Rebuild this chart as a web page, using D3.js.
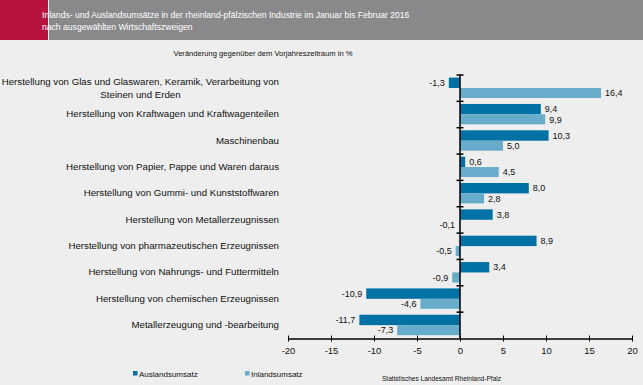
<!DOCTYPE html>
<html>
<head>
<meta charset="utf-8">
<script src="https://cdn.jsdelivr.net/npm/d3@7"></script>
<style>
  body { margin: 0; background: #eeeeee; }
  svg { display: block; font-family: "Liberation Sans", Arial, sans-serif; }
</style>
</head>
<body>
<script>
const categories = [
  ["Herstellung von Glas und Glaswaren, Keramik, Verarbeitung von", "Steinen und Erden"],
  ["Herstellung von Kraftwagen und Kraftwagenteilen"],
  ["Maschinenbau"],
  ["Herstellung von Papier, Pappe und Waren daraus"],
  ["Herstellung von Gummi- und Kunststoffwaren"],
  ["Herstellung von Metallerzeugnissen"],
  ["Herstellung von pharmazeutischen Erzeugnissen"],
  ["Herstellung von Nahrungs- und Futtermitteln"],
  ["Herstellung von chemischen Erzeugnissen"],
  ["Metallerzeugung und -bearbeitung"]
];
const auslandsumsatz = [-1.3, 9.4, 10.3, 0.6, 8.0, 3.8, 8.9, 3.4, -10.9, -11.7];
const inlandsumsatz = [16.4, 9.9, 5.0, 4.5, 2.8, -0.1, -0.5, -0.9, -4.6, -7.3];
const xTicks = [-20, -15, -10, -5, 0, 5, 10, 15, 20];
const seriesNames = ["Auslandsumsatz", "Inlandsumsatz"];
const colors = ["#0071a4", "#67acca"];

const width = 643, height = 385;
const svg = d3.select("body").append("svg")
  .attr("width", width).attr("height", height);

svg.append("rect").attr("width", width).attr("height", height).attr("fill", "#eeeeee");

// header
svg.append("rect").attr("x", 0).attr("y", 0).attr("width", 48).attr("height", 40).attr("fill", "#b8133f");
svg.append("rect").attr("x", 49).attr("y", 0).attr("width", width - 49).attr("height", 40).attr("fill", "#89898b");
svg.append("text").attr("x", 42).attr("y", 18).attr("fill", "#fff").attr("font-size", 8.6)
  .text("Inlands- und Auslandsumsätze in der rheinland-pfälzischen Industrie im Januar bis Februar 2016");
svg.append("text").attr("x", 42).attr("y", 29.5).attr("fill", "#fff").attr("font-size", 8.6)
  .text("nach ausgewählten Wirtschaftszweigen");

svg.append("text").attr("x", 263).attr("y", 56).attr("text-anchor", "middle")
  .attr("font-size", 7.6).attr("fill", "#111")
  .text("Veränderung gegenüber dem Vorjahreszeitraum  in %");

const x = d3.scaleLinear().domain([-20, 20]).range([288, 632]);
const y = d3.scaleBand().domain(d3.range(categories.length)).range([75, 338.5]);

const data = categories.map((c, i) => ({ i, a: auslandsumsatz[i], b: inlandsumsatz[i] }));
const fmt = v => d3.format(".1f")(v).replace(".", ",").replace("−", "-");

const groups = svg.append("g").selectAll("g").data(data).enter().append("g");

[["a", 2.6, 10.4], ["b", 13, 10]].forEach(([k, off, h], si) => {
  groups.append("rect")
    .attr("x", d => x(Math.min(0, d[k])))
    .attr("y", d => y(d.i) + off)
    .attr("width", d => Math.abs(x(d[k]) - x(0)))
    .attr("height", h)
    .attr("fill", colors[si]);
  groups.append("text")
    .attr("x", d => d[k] >= 0 ? x(d[k]) + 4 : x(d[k]) - 4)
    .attr("y", d => y(d.i) + off + h / 2 + 3.2)
    .attr("text-anchor", d => d[k] >= 0 ? "start" : "end")
    .attr("font-size", 9).attr("fill", "#111")
    .text(d => fmt(d[k]));
});

// category labels
svg.append("g").selectAll("text").data(categories).enter().append("text")
  .attr("font-size", 9.7).attr("fill", "#111")
  .each(function(c, i) {
    const t = d3.select(this);
    const cy = y(i) + y.bandwidth() / 2 + 2.8;
    c.forEach((line, j) => {
      t.append("tspan")
        .attr("x", j === 0 ? 279 : 140.5)
        .attr("text-anchor", j === 0 ? "end" : "middle")
        .attr("y", c.length === 1 ? cy : (j === 0 ? cy - 5.5 : cy + 7))
        .text(line);
    });
  });

// x axis
const xAxis = svg.append("g").attr("transform", "translate(0,338.5)")
  .call(d3.axisBottom(x).tickValues(xTicks).tickSize(4).tickSizeOuter(0).tickFormat(d => String(d)));
xAxis.select(".domain").attr("stroke", "#000").attr("stroke-width", 1.5);
xAxis.selectAll(".tick line").attr("stroke", "#000").attr("y1", -3).attr("y2", 3);
xAxis.selectAll(".tick text").attr("font-size", 9.5).attr("fill", "#111").attr("dy", "0.9em")
  .attr("font-family", "Liberation Sans, Arial, sans-serif");

// y axis at zero
svg.append("line").attr("x1", x(0)).attr("x2", x(0)).attr("y1", 75).attr("y2", 338.5)
  .attr("stroke", "#000").attr("stroke-width", 1.5);
svg.append("g").selectAll("line").data(d3.range(categories.length)).enter().append("line")
  .attr("x1", x(0) - 3.5).attr("x2", x(0) + 3.5)
  .attr("y1", i => y(i)).attr("y2", i => y(i))
  .attr("stroke", "#000").attr("stroke-width", 1.5);

// legend
const leg = svg.append("g").selectAll("g").data(seriesNames).enter().append("g")
  .attr("transform", (d, i) => "translate(" + (133 + i * 112) + ",370)");
leg.append("rect").attr("width", 4.5).attr("height", 4.5).attr("y", 1).attr("fill", (d, i) => colors[i]);
leg.append("text").attr("x", 6).attr("y", 6.5).attr("font-size", 8).attr("fill", "#111").text(d => d);

svg.append("text").attr("x", 382).attr("y", 381).attr("font-size", 6.55).attr("fill", "#111")
  .text("Statistisches Landesamt Rheinland-Pfalz");
</script>
</body>
</html>
